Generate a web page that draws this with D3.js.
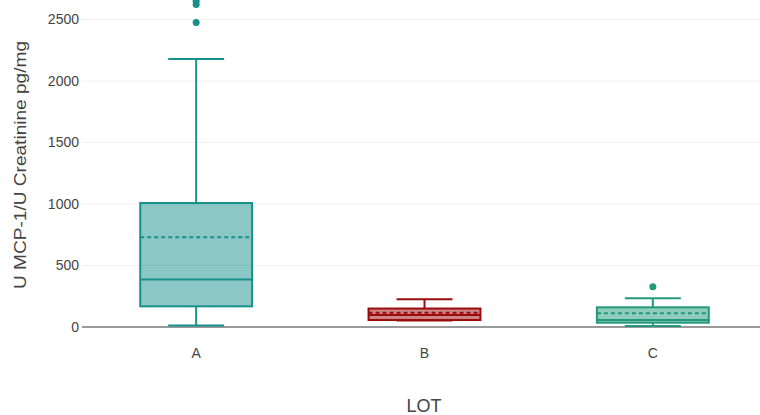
<!DOCTYPE html>
<html>
<head>
<meta charset="utf-8">
<script src="https://cdn.jsdelivr.net/npm/d3@7"></script>
<style>
  html, body { margin: 0; padding: 0; background: #fff; }
  svg { display: block; font-family: "Liberation Sans", Arial, sans-serif; }
</style>
</head>
<body>
<svg id="chart" width="760" height="415"></svg>
<script>
// Box summary per lot
const categories = ["A", "B", "C"];
const lowerWhisker = [12, 53, 8];
const q1 = [168, 57, 35];
const median = [387, 97, 57];
const mean = [730, 116, 111];
const q3 = [1008, 150, 160];
const upperWhisker = [2178, 225, 233];
const outliers = [[2475, 2622, 2648], [], [327]];
const yTicks = [0, 500, 1000, 1500, 2000, 2500];
const strokeColors = ["#17918b", "#9b0b0b", "#22997a"];

const svg = d3.select("#chart");

const x = d3.scaleBand().domain(categories).range([82, 767]).padding(0);
const y = d3.scaleLinear().domain([0, 2500]).range([327, 19.5]);

const boxW = x.bandwidth() * 0.49;
const capW = boxW / 2;

// Gridlines
svg.append("g")
  .selectAll("line")
  .data(yTicks.filter(d => d !== 0))
  .join("line")
  .attr("x1", 82).attr("x2", 760)
  .attr("y1", d => y(d)).attr("y2", d => y(d))
  .attr("stroke", "#eeeeee").attr("stroke-width", 1);

// Y axis labels
const yAxis = d3.axisLeft(y).tickValues(yTicks).tickSize(0).tickPadding(3).tickFormat(d3.format("d"));
const gy = svg.append("g").attr("transform", "translate(82,0)").call(yAxis);
gy.select(".domain").remove();
gy.selectAll("text").attr("font-size", 14).attr("fill", "#444");

// Zero line
svg.append("line")
  .attr("x1", 82).attr("x2", 760)
  .attr("y1", y(0)).attr("y2", y(0))
  .attr("stroke", "#777").attr("stroke-width", 1.5);

// X axis labels
const xAxis = d3.axisBottom(x).tickSize(0).tickPadding(21);
const gx = svg.append("g").attr("transform", `translate(0,${y(0)})`).call(xAxis);
gx.select(".domain").remove();
gx.selectAll("text").attr("font-size", 14).attr("fill", "#444");

// Axis titles
svg.append("text")
  .attr("x", 424).attr("y", 412)
  .attr("text-anchor", "middle").attr("font-size", 18).attr("fill", "#444")
  .text("LOT");

svg.append("text")
  .attr("transform", "translate(26,165) rotate(-90)")
  .attr("text-anchor", "middle").attr("font-size", 17).attr("fill", "#444")
  .attr("textLength", 248).attr("lengthAdjust", "spacingAndGlyphs")
  .text("U MCP-1/U Creatinine pg/mg");

// Boxes
const boxes = svg.append("g").selectAll("g")
  .data(categories.map((c, i) => ({ c, i })))
  .join("g");

boxes.each(function ({ c, i }) {
  const g = d3.select(this);
  const cx = x(c) + x.bandwidth() / 2;
  const col = strokeColors[i];

  // whiskers
  g.append("line").attr("x1", cx).attr("x2", cx)
    .attr("y1", y(q3[i])).attr("y2", y(upperWhisker[i]))
    .attr("stroke", col).attr("stroke-width", 2);
  g.append("line").attr("x1", cx).attr("x2", cx)
    .attr("y1", y(q1[i])).attr("y2", y(lowerWhisker[i]))
    .attr("stroke", col).attr("stroke-width", 2);
  g.append("line").attr("x1", cx - capW / 2).attr("x2", cx + capW / 2)
    .attr("y1", y(upperWhisker[i])).attr("y2", y(upperWhisker[i]))
    .attr("stroke", col).attr("stroke-width", 2);
  g.append("line").attr("x1", cx - capW / 2).attr("x2", cx + capW / 2)
    .attr("y1", y(lowerWhisker[i])).attr("y2", y(lowerWhisker[i]))
    .attr("stroke", col).attr("stroke-width", 2);

  // box
  g.append("rect")
    .attr("x", cx - boxW / 2).attr("width", boxW)
    .attr("y", y(q3[i])).attr("height", y(q1[i]) - y(q3[i]))
    .attr("fill", col).attr("fill-opacity", 0.5)
    .attr("stroke", col).attr("stroke-width", 2);

  // median
  g.append("line").attr("x1", cx - boxW / 2).attr("x2", cx + boxW / 2)
    .attr("y1", y(median[i])).attr("y2", y(median[i]))
    .attr("stroke", col).attr("stroke-width", 2);

  // mean
  g.append("line").attr("x1", cx - boxW / 2).attr("x2", cx + boxW / 2)
    .attr("y1", y(mean[i])).attr("y2", y(mean[i]))
    .attr("stroke", col).attr("stroke-width", 2)
    .attr("stroke-dasharray", "4,3");

  // outliers
  g.selectAll("circle").data(outliers[i]).join("circle")
    .attr("cx", cx).attr("cy", d => y(d)).attr("r", 3.5)
    .attr("fill", col);
});
</script>
</body>
</html>
